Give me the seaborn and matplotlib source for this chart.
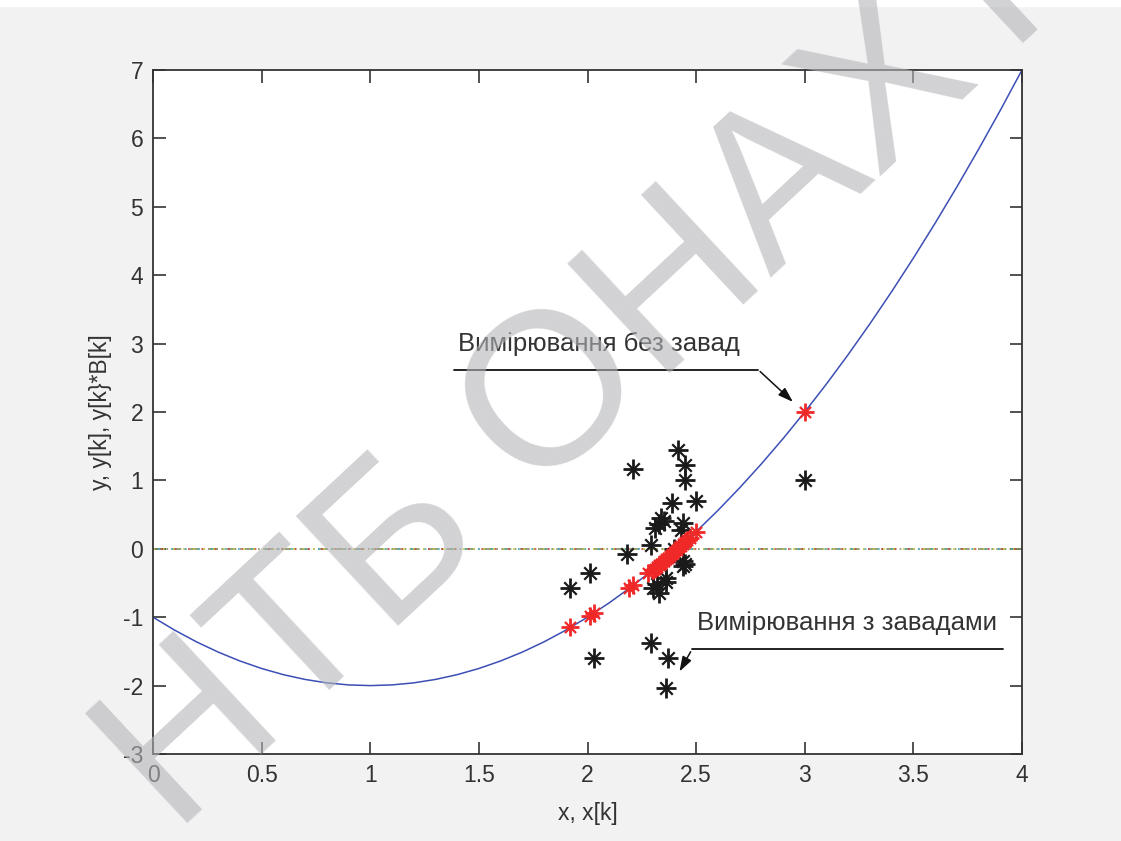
import matplotlib
matplotlib.use("Agg")
import matplotlib.pyplot as plt
import pandas as pd
import seaborn as sns
from matplotlib.patches import Rectangle

# curve y = f(x)
curve_x = [0.0, 0.1, 0.2, 0.3, 0.4, 0.5, 0.6, 0.7, 0.8, 0.9, 1.0,
           1.1, 1.2, 1.3, 1.4, 1.5, 1.6, 1.7, 1.8, 1.9, 2.0,
           2.1, 2.2, 2.3, 2.4, 2.5, 2.6, 2.7, 2.8, 2.9, 3.0,
           3.1, 3.2, 3.3, 3.4, 3.5, 3.6, 3.7, 3.8, 3.9, 4.0]
curve_y = [-1.00, -1.19, -1.36, -1.51, -1.64, -1.75, -1.84, -1.91, -1.96, -1.99, -2.00,
           -1.99, -1.96, -1.91, -1.84, -1.75, -1.64, -1.51, -1.36, -1.19, -1.00,
           -0.79, -0.56, -0.31, -0.04, 0.25, 0.56, 0.89, 1.24, 1.61, 2.00,
           2.41, 2.84, 3.29, 3.76, 4.25, 4.76, 5.29, 5.84, 6.41, 7.00]

# measurements without noise (red)
clean_x = [1.92, 2.01, 2.03, 2.19, 2.21, 2.28, 2.30, 2.31, 2.32, 2.33, 2.34, 2.35,
           2.36, 2.37, 2.38, 2.39, 2.40, 2.41, 2.42, 2.43, 2.44, 2.45, 2.46, 2.47,
           2.50, 3.00]
clean_y = [-1.15, -0.98, -0.94, -0.57, -0.53, -0.36, -0.31, -0.29, -0.26, -0.24, -0.22, -0.18,
           -0.15, -0.13, -0.10, -0.08, -0.04, -0.02, 0.02, 0.04, 0.07, 0.10, 0.13, 0.16,
           0.25, 2.00]

# measurements with noise (black)
noisy_x = [2.415, 2.21, 2.45, 2.45, 2.39, 2.50, 2.34, 2.35, 2.33, 2.31, 2.44, 2.43,
           2.29, 2.18, 2.44, 2.44, 2.45, 2.01, 1.92, 2.30, 2.33, 2.36, 2.32, 2.36,
           2.40, 2.29, 2.03, 2.37, 2.36, 3.00]
noisy_y = [1.45, 1.17, 1.22, 1.00, 0.67, 0.70, 0.45, 0.40, 0.36, 0.31, 0.38, 0.28,
           0.05, -0.07, -0.18, -0.25, -0.22, -0.35, -0.57, -0.58, -0.64, -0.49, -0.52, -0.42,
           0.00, -1.37, -1.60, -1.60, -2.04, 1.00]

# zero series drawn along y = 0
zero_x = [0.0, 4.0]
zero_y = [0.0, 0.0]

x_ticks = [0, 0.5, 1, 1.5, 2, 2.5, 3, 3.5, 4]
x_ticklabels = ["0", "0.5", "1", "1.5", "2", "2.5", "3", "3.5", "4"]
y_ticks = [-3, -2, -1, 0, 1, 2, 3, 4, 5, 6, 7]

curve = pd.DataFrame({"x": curve_x, "y": curve_y})
clean = pd.DataFrame({"x": clean_x, "y": clean_y})
noisy = pd.DataFrame({"x": noisy_x, "y": noisy_y})
zero = pd.DataFrame({"x": zero_x, "y": zero_y})

sns.set_style("ticks")
plt.rcParams["font.family"] = ["Liberation Sans", "DejaVu Sans"]
plt.rcParams["axes.unicode_minus"] = False
ink = "#333333"

fig = plt.figure(figsize=(11.21, 8.41), dpi=100, facecolor="#f2f2f2")
fig.add_artist(Rectangle((0, 1 - 6 / 841), 1, 6 / 841, transform=fig.transFigure,
                         color="white", zorder=0))
ax = fig.add_axes([153 / 1121, 1 - 754 / 841, 869 / 1121, 684 / 841])
ax.set_facecolor("white")

# zero lines (several overlapping series)
zero_styles = [("#7f8f5f", (0, (6, 2, 1, 2))),
               ("#d8c838", (0, (1, 5))),
               ("#d04040", (3, (1, 7))),
               ("#40b0c0", (5, (1, 7)))]
for c, ls in zero_styles:
    sns.lineplot(data=zero, x="x", y="y", color=c, lw=1.2, ax=ax,
                 estimator=None, sort=False, linestyle=ls)

sns.lineplot(data=curve, x="x", y="y", color="#3c4fb5", lw=1.1, ax=ax,
             estimator=None, sort=False)

# asterisk-like markers: '+' overlaid with 'x'
for df, col, big, small in [(noisy, "#1a1a1a", 14, 9), (clean, "#f02828", 13, 8)]:
    sns.scatterplot(data=df, x="x", y="y", marker="+", s=big ** 2, color=col,
                    linewidth=2.0, ax=ax, zorder=4)
    sns.scatterplot(data=df, x="x", y="y", marker="x", s=small ** 2, color=col,
                    linewidth=1.6, ax=ax, zorder=4)

ax.set_xlim(0, 4)
ax.set_ylim(-3, 7)
ax.set_xticks(x_ticks)
ax.set_xticklabels(x_ticklabels)
ax.set_yticks(y_ticks)
ax.tick_params(direction="in", top=True, right=True, length=9, width=1.2,
               colors=ink, labelsize=16.5, pad=7)
for sp in ax.spines.values():
    sp.set_color(ink)
    sp.set_linewidth(1.3)
ax.set_xlabel("x, x[k]", fontsize=16.5, color=ink, labelpad=11)
ax.set_ylabel("y, y[k], y[k}*B[k]", fontsize=16.5, color=ink, labelpad=8)

# annotations
arrow_kw = dict(arrowstyle="-|>,head_length=0.9,head_width=0.3", color="#111111", lw=1.1)
ax.plot([1.386, 2.785], [2.62, 2.62], color="#111111", lw=1.3)
ax.annotate("", xy=(2.955, 2.12), xytext=(2.785, 2.62), arrowprops=arrow_kw)
ax.text(1.404, 3.0, "Вимірювання без завад", fontsize=18.5, color=ink, va="center", ha="left")

ax.plot([2.481, 3.913], [-1.47, -1.47], color="#111111", lw=1.3)
ax.annotate("", xy=(2.417, -1.83), xytext=(2.481, -1.47), arrowprops=arrow_kw)
ax.text(2.504, -1.08, "Вимірювання з завадами", fontsize=18.5, color=ink, va="center", ha="left")

# watermark
fig.text(175 / 1121, 1 - 835 / 841, "НТБ ОНАХТ", fontsize=156, color="#b4b5b9",
         alpha=0.6, rotation=43, rotation_mode="anchor", ha="left", va="baseline",
         zorder=10)

fig.savefig("out.png", dpi=100, facecolor=fig.get_facecolor())
